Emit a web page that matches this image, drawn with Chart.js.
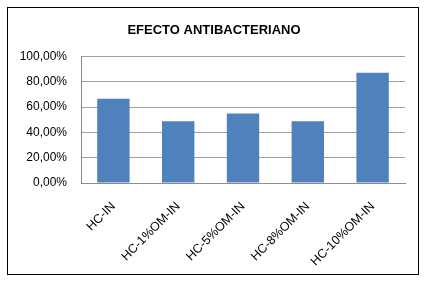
<!DOCTYPE html>
<html><head><meta charset="utf-8">
<script src="https://cdn.jsdelivr.net/npm/chart.js@4"></script>
<style>html,body{margin:0;padding:0;background:#fff}#w{width:425px;height:282px;position:relative}</style>
</head><body><div id="w"><canvas id="c" width="425" height="282"></canvas></div>
<script>
const categories = ["HC-IN", "HC-1%OM-IN", "HC-5%OM-IN", "HC-8%OM-IN", "HC-10%OM-IN"];
const values = [0.6667, 0.4889, 0.5500, 0.4889, 0.8730];
const yTicks = [0, 0.2, 0.4, 0.6, 0.8, 1.0];
const titleText = "EFECTO ANTIBACTERIANO";

const frame = {
  id: 'frame',
  afterDraw(chart) {
    const ctx = chart.ctx;
    ctx.save();
    ctx.strokeStyle = '#000';
    ctx.lineWidth = 1;
    ctx.strokeRect(7.5, 7.5, 411, 267);
    ctx.restore();
  }
};

new Chart(document.getElementById('c'), {
  type: 'bar',
  data: {
    labels: categories,
    datasets: [{ data: values, backgroundColor: '#4f81bd', barPercentage: 0.5, categoryPercentage: 1.0 }]
  },
  plugins: [frame],
  options: {
    responsive: false,
    animation: false,
    devicePixelRatio: 1,
    layout: { padding: { left: 3, right: 0, top: 0, bottom: 8 } },
    plugins: {
      legend: { display: false },
      tooltip: { enabled: false },
      title: {
        display: true, text: titleText, color: '#000',
        font: { family: 'Liberation Sans', size: 13, weight: 'bold' },
        padding: { top: 23, bottom: 18 }
      }
    },
    scales: {
      x: {
        grid: { display: false, drawTicks: false },
        border: { color: '#8c8c8c', width: 1 },
        ticks: {
          color: '#000', minRotation: 45, maxRotation: 45, padding: 16,
          font: { family: 'Liberation Sans', size: 12.5 }
        },
        afterFit(s) { s.height = 91; }
      },
      y: {
        min: 0, max: 1,
        afterBuildTicks(s) { s.ticks = yTicks.map(v => ({ value: v })); },
        grid: { color: '#a0a0a0', drawTicks: false },
        border: { color: '#8c8c8c', width: 1 },
        ticks: {
          color: '#000', padding: 14,
          font: { family: 'Liberation Sans', size: 12 },
          callback: v => (v * 100).toFixed(2).replace('.', ',') + '%'
        },
        afterFit(s) { s.width = 78; }
      },
      ySpacer: {
        position: 'right', min: 0, max: 1,
        grid: { display: false, drawTicks: false },
        border: { display: false },
        ticks: { display: false },
        afterFit(s) { s.width = 20; }
      }
    }
  }
});
</script></body></html>
